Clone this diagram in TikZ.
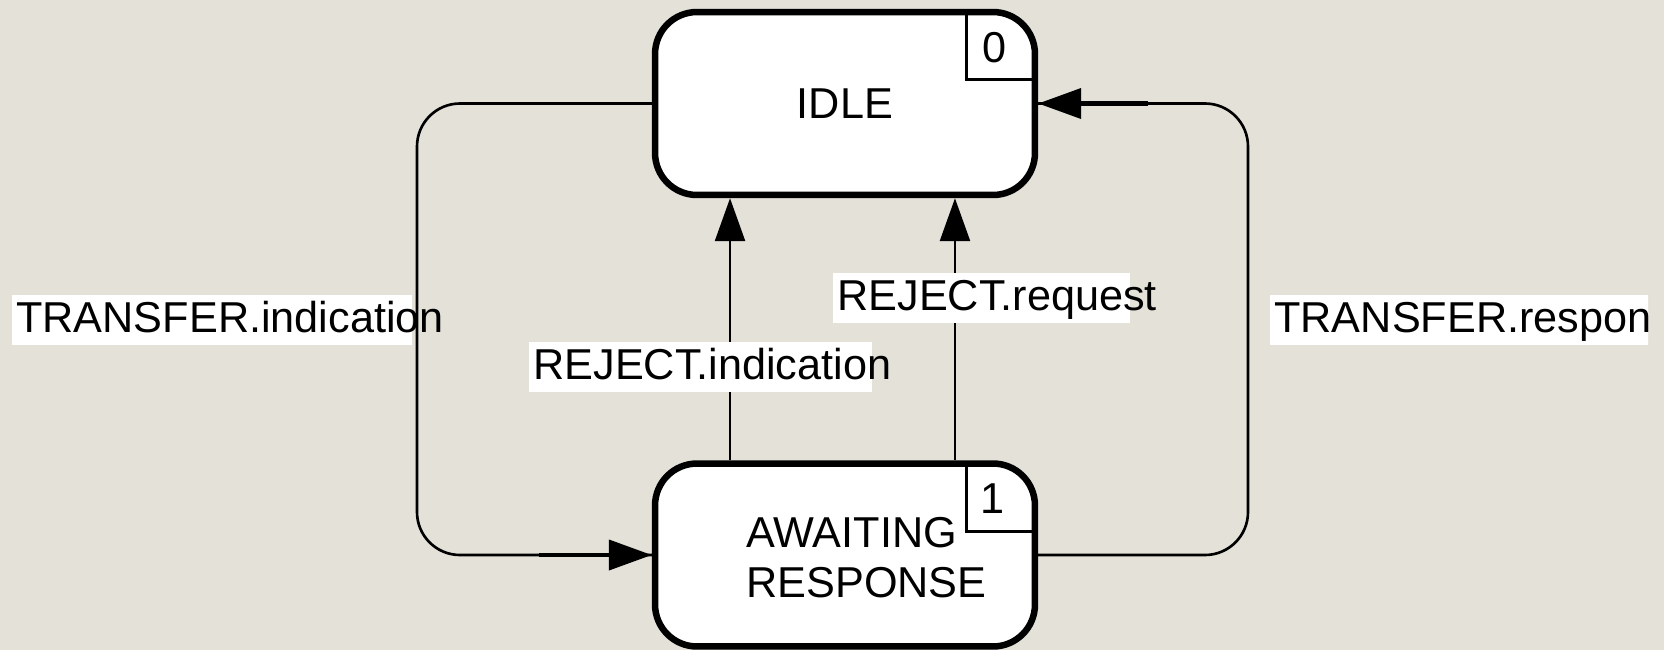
\documentclass[tikz,border=0pt]{standalone}
\usepackage{fontspec}
\setmainfont{Liberation Sans}
\usetikzlibrary{calc,arrows.meta}
\definecolor{canvas}{RGB}{228,225,217}
\tikzset{
	statebox/.style={draw, fill=white, line width=3.7pt, rounded corners=0.84cm, minimum width=7.6cm, minimum height=3.66cm, inner sep=0pt},
	statetext/.style={font=\fontsize{24.6pt}{28.45pt}\selectfont, align=left, inner sep=0pt},
	numtext/.style={font=\fontsize{24.6pt}{28pt}\selectfont, inner sep=0pt},
	flow/.style={line width=1.5pt, rounded corners=0.86cm},
	tipline/.style={line width=2.3pt, -{Triangle[length=0.86cm,width=0.6cm]}},
	upline/.style={line width=1.5pt, -{Triangle[length=0.86cm,width=0.6cm]}},
	lblbox/.style={fill=white, inner sep=0pt, anchor=north west, text height=0.74cm, text depth=0.26cm, font=\fontsize{24.6pt}{28pt}\selectfont}
}
\newcommand{\lbltext}[2]{\makebox[#1][l]{\hspace{0.08cm}#2}}

\begin{document}
\begin{tikzpicture}[x=0.02cm, y=-0.02cm]
		%%%%% START %%%%%
		
		\useasboundingbox (0,0) rectangle (1664,650);
		\fill[canvas] (0,0) rectangle (1664,650);
		
		% states
		\node[statebox] (idle) at (845,103.5) {};
		\node[statebox] (awaiting) at (845,555) {};
		\node[statetext] (idletext) at (idle.center) {IDLE};
		\node[statetext] (awaitingtext) at ($(awaiting.center)+(21.5,2.5)$) {AWAITING\\RESPONSE};
		
		\draw[line width=1.5pt] ($(idle.north east)+(-72,3)$) |- ($(idle.north east)+(-3,71)$);
		\node[numtext] (idlenum) at ($(idle.north east)+(-44,38.5)$) {0};
		\draw[line width=1.5pt] ($(awaiting.north east)+(-72,3)$) |- ($(awaiting.north east)+(-3,71)$);
		\node[numtext] (awaitingnum) at ($(awaiting.north east)+(-46,38.5)$) {1};
		
		% reject arrows
		\draw[upline] ([xshift=-2.3cm]awaiting.north) -- ([xshift=-2.3cm]idle.south);
		\draw[upline] ([xshift=2.2cm]awaiting.north) -- ([xshift=2.2cm]idle.south);
		
		% labels
		\node[lblbox] (rejind) at (529,342) {\lbltext{6.86cm}{REJECT.indication}};
		\node[lblbox] (rejreq) at (833,273) {\lbltext{5.94cm}{REJECT.request}};
		\node[lblbox] (trind) at (12,295) {\lbltext{8cm}{TRANSFER.indication}};
		\begin{scope}
			\clip (0,0) rectangle (1648,650);
			\node[lblbox] (trresp) at (1270,295) {\lbltext{8cm}{TRANSFER.response}};
		\end{scope}
		
		% transfer loops
		\coordinate (lft) at (417,555);
		\coordinate (rgt) at (1248,103.5);
		\draw[flow] (idle.west) -| (lft) -- (awaiting.west);
		\draw[tipline] ([xshift=-2.26cm]awaiting.west) -- (awaiting.west);
		\draw[flow] (awaiting.east) -| (rgt) -- (idle.east);
		\draw[tipline] ([xshift=2.2cm]idle.east) -- (idle.east);
		
		%%%%% END %%%%%
	\end{tikzpicture}
\end{document}
